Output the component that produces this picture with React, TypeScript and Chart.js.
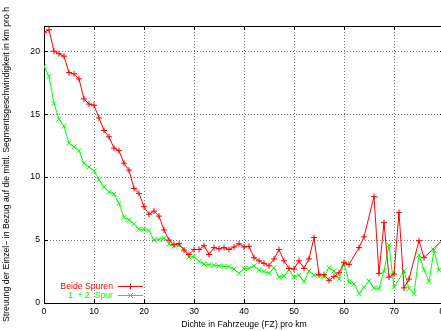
import React, { useEffect, useRef } from "react";
import { Chart, registerables } from "chart.js";

Chart.register(...registerables);

// Dichte (FZ pro km)
const density = [
  0, 1, 2, 3, 4, 5, 6, 7, 8, 9, 10, 11, 12, 13, 14, 15, 16, 17, 18, 19, 20,
  21, 22, 23, 24, 25, 26, 27, 28, 29, 30, 31, 32, 33, 34, 35, 36, 37, 38, 39, 40,
  41, 42, 43, 44, 45, 46, 47, 48, 49, 50, 51, 52, 53, 54, 55, 56, 57, 58, 59, 60,
  61, 62, 63, 64, 65, 66, 67, 68, 69, 70, 71, 72, 73, 74, 75, 76, 77, 78, 79, 80,
];

// Streuung, beide Spuren (null = kein Messwert)
const beideSpuren: (number | null)[] = [
  21.5, 21.7, 20.0, 19.8, 19.6, 18.3, 18.2, 17.8, 16.2, 15.8, 15.7,
  14.7, 13.7, 13.2, 12.3, 12.1, 11.1, 10.55, 9.1, 8.7, 7.65,
  7.05, 7.3, 6.9, 5.8, 5.0, 4.65, 4.7, 4.2, 3.85, 4.25,
  4.25, 4.55, 3.85, 4.4, 4.3, 4.4, 4.25, 4.45, 4.7, 4.45,
  4.5, 3.6, 3.35, 3.15, 2.95, 3.5, 4.25, 3.35, 2.75, 2.7,
  3.35, 2.75, 3.5, 5.2, 2.25, 2.25, 1.8, 2.1, 2.4, 3.2,
  3.05, null, 4.4, 5.25, null, 8.45, 2.35, 6.4, 2.05, 2.3,
  7.2, 1.2, 1.9, null, 4.95, 3.6, null, null, null, 5.1,
];

// Streuung, 1. + 2. Spur
const ersteZweiteSpur: (number | null)[] = [
  18.8, 18.0, 15.85, 14.6, 14.05, 12.7, 12.4, 12.1, 11.1, 10.8, 10.5,
  9.8, 9.2, 8.8, 8.65, 7.9, 6.8, 6.6, 6.3, 5.85, 5.85,
  5.75, 5.0, 5.05, 5.15, 4.7, 4.5, 4.6, 4.25, 3.65, 3.7,
  3.3, 3.1, 3.05, 3.0, 2.95, 2.9, 2.9, 2.7, 2.35, 2.75,
  2.75, 2.95, 2.6, 2.5, 2.35, 2.8, 2.05, 2.15, 2.65, 2.05,
  2.2, 1.7, 2.55, 2.2, 2.2, 2.1, 2.8, 2.55, 1.9, 3.15,
  1.65, 1.5, 0.75, 1.25, 1.75, 1.2, 1.15, 2.55, 4.6, 1.25,
  null, 2.55, 1.15, 0.75, 3.8, 2.65, 1.7, 4.2, 2.6, null,
];

const xTicks = [0, 10, 20, 30, 40, 50, 60, 70, 80];
const yTicks = [0, 5, 10, 15, 20];
const X_MIN = 0;
const X_MAX = 80;
const Y_MIN = 0;
const Y_MAX = 22;

const FONT = '"Liberation Sans", Arial, Helvetica, sans-serif';
const FONT_SIZE = 8.7;

const toPoints = (values: (number | null)[]) =>
  density
    .map((d, i) => ({ x: d, y: values[i] }))
    .filter((p) => p.y !== null) as { x: number; y: number }[];

// Dotted grid, black frame and inward tick marks
const frameGrid = {
  id: "frameGrid",
  beforeDatasetsDraw(chart: any) {
    const { ctx, chartArea: a, scales } = chart;
    const xs = scales.x;
    const ys = scales.y;
    ctx.save();
    ctx.lineWidth = 1;
    ctx.strokeStyle = "#777";
    ctx.setLineDash([1, 2]);
    ctx.beginPath();
    for (const v of xTicks) {
      if (v <= X_MIN || v >= X_MAX) continue;
      const px = Math.round(xs.getPixelForValue(v)) + 0.5;
      ctx.moveTo(px, a.top);
      ctx.lineTo(px, a.bottom);
    }
    for (const v of yTicks) {
      if (v <= Y_MIN || v >= Y_MAX) continue;
      const py = Math.round(ys.getPixelForValue(v)) + 0.5;
      ctx.moveTo(a.left, py);
      ctx.lineTo(a.right, py);
    }
    ctx.stroke();
    ctx.setLineDash([]);
    ctx.strokeStyle = "#000";
    ctx.beginPath();
    const tl = 4;
    for (const v of xTicks) {
      const px = Math.round(xs.getPixelForValue(v)) + 0.5;
      ctx.moveTo(px, a.bottom);
      ctx.lineTo(px, a.bottom - tl);
      ctx.moveTo(px, a.top);
      ctx.lineTo(px, a.top + tl);
    }
    for (const v of yTicks) {
      const py = Math.round(ys.getPixelForValue(v)) + 0.5;
      ctx.moveTo(a.left, py);
      ctx.lineTo(a.left + tl, py);
      ctx.moveTo(a.right, py);
      ctx.lineTo(a.right - tl, py);
    }
    ctx.stroke();
    ctx.strokeRect(
      Math.round(a.left) + 0.5,
      Math.round(a.top) + 0.5,
      Math.round(a.right - a.left),
      Math.round(a.bottom - a.top)
    );
    ctx.restore();
  },
};

// Key in the lower left corner: right-aligned label, then line sample with marker
const keyPlugin = {
  id: "keyPlugin",
  afterDatasetsDraw(chart: any) {
    const { ctx, chartArea: a } = chart;
    ctx.save();
    ctx.font = `${FONT_SIZE}px ${FONT}`;
    ctx.textAlign = "right";
    ctx.textBaseline = "middle";
    chart.data.datasets.forEach((ds: any, i: number) => {
      const y = Math.round(a.bottom - 17 + 9 * i) + 0.5;
      const color = ds.borderColor;
      ctx.fillStyle = color;
      ctx.fillText(ds.label, a.left + 69, y);
      ctx.strokeStyle = color;
      ctx.lineWidth = 1;
      ctx.beginPath();
      ctx.moveTo(a.left + 74, y);
      ctx.lineTo(a.left + 99, y);
      const cx = a.left + 86.5;
      if (ds.pointStyle === "cross") {
        ctx.moveTo(cx - 3, y);
        ctx.lineTo(cx + 3, y);
        ctx.moveTo(cx, y - 3);
        ctx.lineTo(cx, y + 3);
      } else {
        ctx.moveTo(cx - 2.5, y - 2.5);
        ctx.lineTo(cx + 2.5, y + 2.5);
        ctx.moveTo(cx - 2.5, y + 2.5);
        ctx.lineTo(cx + 2.5, y - 2.5);
      }
      ctx.stroke();
    });
    ctx.restore();
  },
};

export default function App() {
  const canvasRef = useRef<HTMLCanvasElement>(null);

  useEffect(() => {
    const canvas = canvasRef.current;
    if (!canvas) return;
    const font = { family: FONT, size: FONT_SIZE };
    const chart = new Chart(canvas, {
      type: "line",
      data: {
        datasets: [
          {
            label: "Beide Spuren",
            data: toPoints(beideSpuren),
            borderColor: "#ff0000",
            backgroundColor: "#ff0000",
            borderWidth: 1,
            pointStyle: "cross",
            pointRadius: 3,
            pointBorderWidth: 1,
            pointBorderColor: "#ff0000",
            tension: 0,
            fill: false,
          },
          {
            label: "1. + 2. Spur",
            data: toPoints(ersteZweiteSpur),
            borderColor: "#00ff00",
            backgroundColor: "#00ff00",
            borderWidth: 1,
            pointStyle: "crossRot",
            pointRadius: 3.5,
            pointBorderWidth: 1,
            pointBorderColor: "#00ff00",
            tension: 0,
            fill: false,
          },
        ],
      },
      options: {
        animation: false,
        responsive: false,
        devicePixelRatio: 1,
        layout: { padding: { top: 26, right: 16, bottom: 0, left: 0 } },
        plugins: {
          legend: { display: false },
          tooltip: { enabled: false },
        },
        scales: {
          x: {
            type: "linear",
            min: X_MIN,
            max: X_MAX,
            afterBuildTicks: (scale: any) => {
              scale.ticks = xTicks.map((v) => ({ value: v }));
            },
            afterFit: (scale: any) => {
              scale.height = 28;
            },
            grid: { display: false, drawTicks: false },
            border: { display: false },
            ticks: {
              color: "#000",
              font,
              padding: 3,
              maxRotation: 0,
              autoSkip: false,
            },
            title: {
              display: true,
              text: "Dichte in Fahrzeuge (FZ) pro km",
              color: "#000",
              font,
              padding: { top: 0, bottom: 1 },
            },
          },
          y: {
            type: "linear",
            min: Y_MIN,
            max: Y_MAX,
            afterBuildTicks: (scale: any) => {
              scale.ticks = yTicks.map((v) => ({ value: v }));
            },
            afterFit: (scale: any) => {
              scale.width = 44;
            },
            grid: { display: false, drawTicks: false },
            border: { display: false },
            ticks: {
              color: "#000",
              font,
              padding: 4,
              autoSkip: false,
            },
            title: {
              display: true,
              text: "Streuung der Einzel\u2212 in Bezug auf die mittl. Segmentsgeschwindigkeit in km pro h",
              color: "#000",
              font,
              padding: { top: 1, bottom: 0 },
            },
          },
        },
      },
      plugins: [frameGrid, keyPlugin],
    } as any);
    return () => chart.destroy();
  }, []);

  return (
    <div
      style={{
        position: "fixed",
        left: 0,
        top: 0,
        width: 441,
        height: 331,
        overflow: "hidden",
        background: "#fff",
      }}
    >
      <canvas
        ref={canvasRef}
        width={460}
        height={331}
        style={{ display: "block", width: 460, height: 331 }}
      />
    </div>
  );
}
